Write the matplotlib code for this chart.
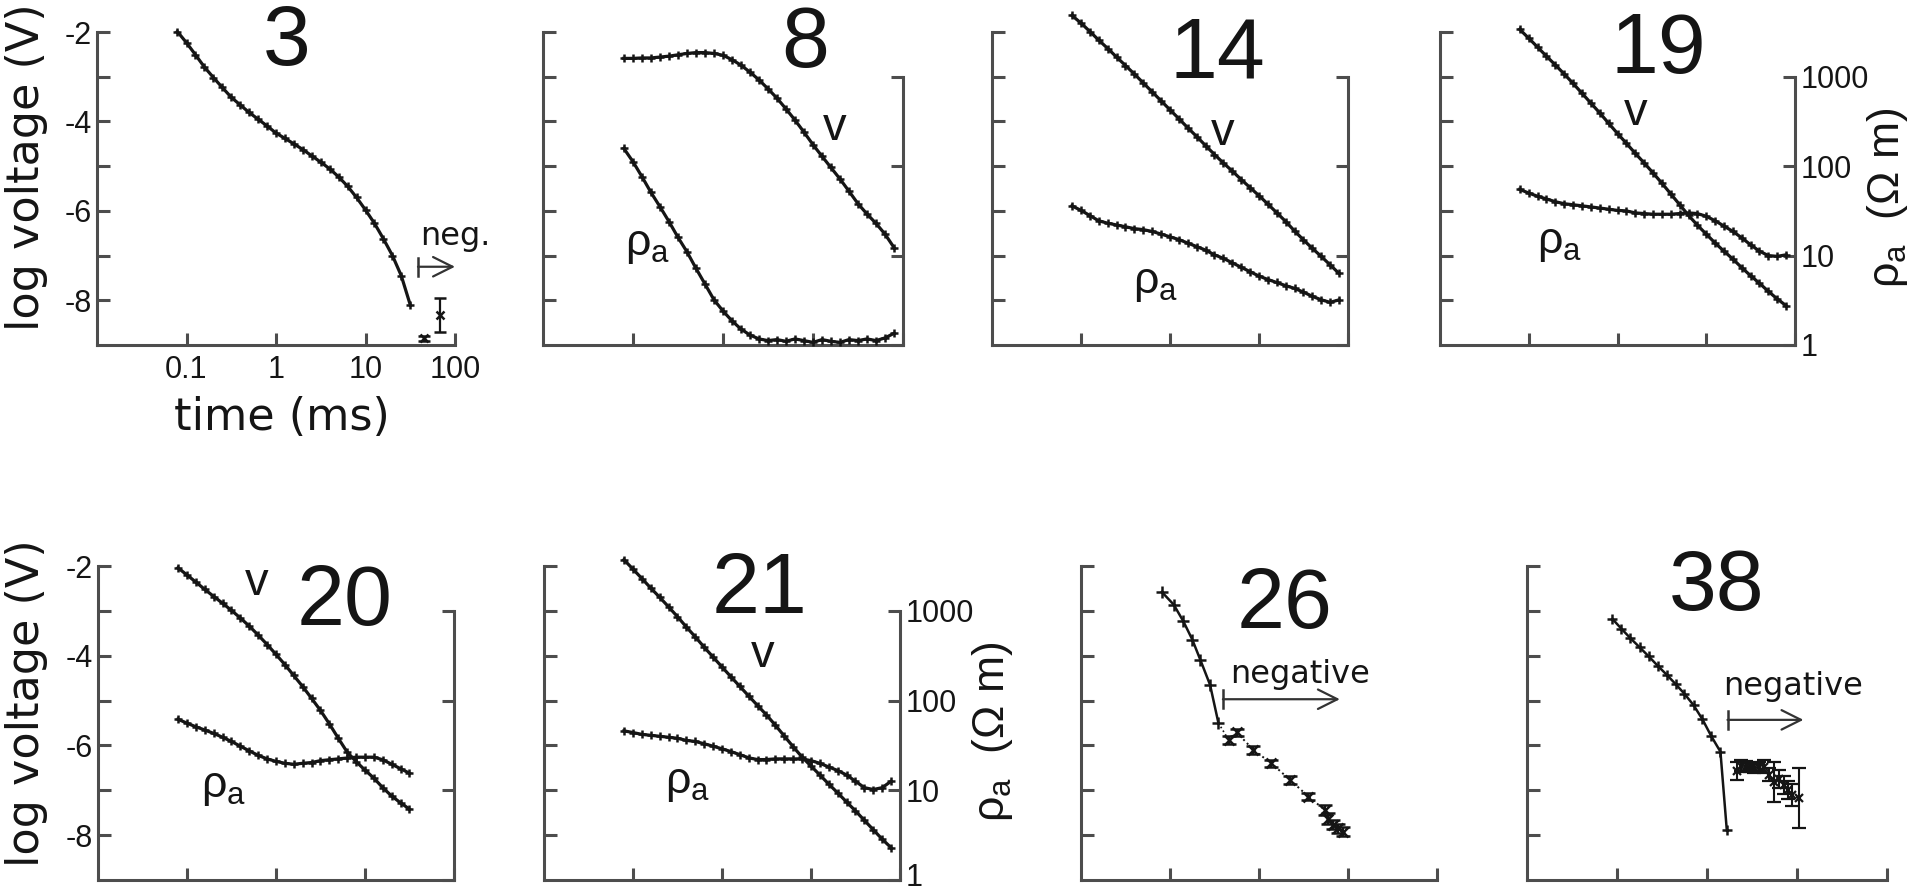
import matplotlib
matplotlib.use("Agg")
import matplotlib.pyplot as plt
from matplotlib.ticker import FixedLocator, FixedFormatter, NullLocator, NullFormatter
from matplotlib.transforms import offset_copy

plt.rcParams['font.family'] = ['Liberation Sans', 'DejaVu Sans']
plt.rcParams['mathtext.fontset'] = 'custom'
plt.rcParams['mathtext.rm'] = 'Liberation Sans'
plt.rcParams['mathtext.it'] = 'Liberation Sans'
plt.rcParams['mathtext.bf'] = 'Liberation Sans:bold'

W, H = 1923, 892

# ---------------- data ----------------
# time gates (ms)
GATES = [0.079, 0.1, 0.126, 0.158, 0.2, 0.251, 0.316, 0.398, 0.501, 0.631, 0.794,
         1.0, 1.26, 1.58, 2.0, 2.51, 3.16, 3.98, 5.01, 6.31, 7.94,
         10.0, 12.6, 15.8, 20.0, 25.1, 31.6, 39.8, 50.1, 63.1, 79.4]

X_TICKS = [0.1, 1, 10, 100]
X_TICK_LABELS = ['0.1', '1', '10', '100']
Y_TICKS = [-8, -6, -4, -2]
Y_TICK_LABELS = ['-8', '-6', '-4', '-2']
Y_MINOR = [-7, -5, -3]
RHO_TICKS = [1, 10, 100, 1000]
RHO_TICK_LABELS = ['1', '10', '100', '1000']

# sounding 3
v3 = [-1.99, -2.24, -2.51, -2.78, -3.02, -3.24, -3.46, -3.63, -3.80, -3.95, -4.10,
      -4.26, -4.38, -4.50, -4.63, -4.77, -4.91, -5.06, -5.24, -5.45, -5.70,
      -5.98, -6.28, -6.62, -7.00, -7.45, -8.10]
t3_neg = [45.0, 68.0]
v3_neg = [-8.85, -8.33]
e3_neg = [0.05, 0.37]

# sounding 8
v8 = [-2.59, -2.59, -2.58, -2.58, -2.56, -2.54, -2.51, -2.48, -2.46, -2.46, -2.48,
      -2.52, -2.62, -2.74, -2.90, -3.07, -3.27, -3.48, -3.72, -3.97, -4.24,
      -4.52, -4.78, -5.03, -5.29, -5.56, -5.84, -6.07, -6.28, -6.52, -6.82]
rho8 = [158, 112, 76, 51, 35, 24, 16, 11, 7.2, 4.8, 3.2,
        2.4, 1.86, 1.51, 1.29, 1.17, 1.12, 1.15, 1.10, 1.17, 1.12,
        1.07, 1.15, 1.10, 1.07, 1.15, 1.12, 1.17, 1.12, 1.20, 1.35]

# sounding 14
v14 = [-1.63, -1.80, -1.99, -2.18, -2.37, -2.56, -2.75, -2.94, -3.14, -3.34, -3.54,
       -3.74, -3.94, -4.14, -4.34, -4.54, -4.74, -4.93, -5.11, -5.30, -5.48,
       -5.66, -5.85, -6.04, -6.24, -6.45, -6.65, -6.84, -7.02, -7.21, -7.40]
rho14 = [36, 32, 28, 24.5, 23, 22, 21, 20, 19.5, 18.6, 17.4,
         16.2, 15.1, 13.8, 12.6, 11.5, 10.2, 9.3, 8.3, 7.4, 6.6,
         5.9, 5.4, 5.0, 4.6, 4.3, 3.9, 3.5, 3.2, 3.0, 3.2]

# sounding 19
v19 = [-1.94, -2.14, -2.34, -2.54, -2.74, -2.94, -3.15, -3.37, -3.59, -3.81, -4.04,
       -4.27, -4.49, -4.71, -4.93, -5.15, -5.38, -5.62, -5.86, -6.10, -6.32,
       -6.52, -6.72, -6.90, -7.08, -7.27, -7.45, -7.62, -7.80, -7.97, -8.12]
rho19 = [55, 50, 46, 43, 40, 38, 37, 36, 35, 34, 33,
         32, 31.6, 30, 29.5, 29, 29, 29, 29.5, 30, 29.5,
         27.5, 24.5, 21.4, 18.6, 15.8, 13.2, 11.2, 10, 9.8, 10.2]

# sounding 20
v20 = [-2.04, -2.20, -2.36, -2.52, -2.68, -2.83, -2.99, -3.16, -3.34, -3.54, -3.75,
       -3.97, -4.20, -4.44, -4.69, -4.95, -5.22, -5.52, -5.84, -6.15, -6.36,
       -6.55, -6.73, -6.94, -7.13, -7.28, -7.42]
rho20 = [62, 56, 51, 47, 43, 39, 35, 31, 27.5, 24.5, 22.4,
         21, 20, 19.5, 20, 20.4, 21.4, 21.9, 22.4, 22.9, 23.4,
         23.4, 23.4, 21.9, 19.5, 17.4, 15.5]

# sounding 21
v21 = [-1.86, -2.07, -2.28, -2.49, -2.70, -2.91, -3.13, -3.36, -3.58, -3.81, -4.03,
       -4.25, -4.47, -4.68, -4.90, -5.11, -5.32, -5.55, -5.79, -6.03, -6.26,
       -6.46, -6.66, -6.86, -7.06, -7.26, -7.46, -7.67, -7.88, -8.09, -8.28]
rho21 = [46, 44, 42, 41, 40, 39, 38, 36, 35, 33, 31,
         29, 27, 25, 23, 22, 22, 22.4, 22.4, 22.4, 22.4,
         21.4, 20, 18.2, 16.6, 14.8, 12.6, 10.7, 10.2, 10.7, 12.6]

# sounding 26
t26_pos = [0.081, 0.11, 0.141, 0.178, 0.219, 0.282, 0.35]
v26_pos = [-2.58, -2.86, -3.23, -3.64, -4.09, -4.65, -5.50]
t26_neg = [0.457, 0.562, 0.865, 1.38, 2.24, 3.59, 5.5, 6.0, 6.8, 7.8, 8.9]
v26_neg = [-5.88, -5.71, -6.10, -6.40, -6.77, -7.14, -7.44, -7.63, -7.77, -7.85, -7.92]
e26_neg = [0.08, 0.08, 0.08, 0.08, 0.08, 0.08, 0.12, 0.12, 0.10, 0.10, 0.10]

# sounding 38
t38_pos = [0.089, 0.112, 0.141, 0.178, 0.224, 0.282, 0.355, 0.447, 0.562, 0.708,
           0.891, 1.12, 1.41, 1.66]
v38_pos = [-3.18, -3.40, -3.61, -3.81, -4.01, -4.22, -4.42, -4.63, -4.85, -5.10,
           -5.42, -5.80, -6.14, -7.89]
t38_neg = [2.14, 2.40, 2.69, 3.02, 3.31, 3.80, 4.27, 4.90, 5.50, 6.31, 7.08, 7.94, 8.71, 10.5]
v38_neg = [-6.58, -6.45, -6.47, -6.50, -6.51, -6.48, -6.47, -6.65, -6.81, -6.75,
           -6.89, -7.00, -7.10, -7.18]
e38_neg = [0.20, 0.12, 0.12, 0.10, 0.10, 0.10, 0.15, 0.15, 0.45, 0.20, 0.20, 0.20, 0.25, 0.67]

# ---------------- style ----------------
SPINE = '#4d4d4d'
INK = '#151515'
TITLE_FS = 62
TICK_FS = 22
LABEL_FS = 32
LABEL_FONT = 'DejaVu Sans'


def rect(l, t, r, b):
    return [l / W, 1 - b / H, (r - l) / W, (b - t) / H]


def base_axes(r, left_labels=False, x_labels=False):
    ax = fig.add_axes(rect(*r))
    ax.set_xscale('log')
    ax.set_xlim(0.01, 100)
    ax.set_ylim(-9, -2)
    ax.patch.set_alpha(0)
    for s in ('top', 'right'):
        ax.spines[s].set_visible(False)
    for s in ('left', 'bottom'):
        ax.spines[s].set_linewidth(2.2)
        ax.spines[s].set_color(SPINE)
    ax.xaxis.set_major_locator(FixedLocator(X_TICKS))
    ax.xaxis.set_minor_locator(NullLocator())
    if x_labels:
        ax.xaxis.set_major_formatter(FixedFormatter(X_TICK_LABELS))
    else:
        ax.xaxis.set_major_formatter(NullFormatter())
    ax.yaxis.set_major_locator(FixedLocator(Y_TICKS))
    ax.yaxis.set_minor_locator(FixedLocator(Y_MINOR))
    ax.yaxis.set_minor_formatter(NullFormatter())
    if left_labels:
        ax.yaxis.set_major_formatter(FixedFormatter(Y_TICK_LABELS))
    else:
        ax.yaxis.set_major_formatter(NullFormatter())
    ax.tick_params(which='both', direction='in', length=9, width=2.2,
                   color=SPINE, labelsize=TICK_FS, labelcolor=INK)
    ax.tick_params(axis='x', pad=7)
    ax.tick_params(axis='y', pad=4)
    return ax


def rho_axes(ax, labels=False, raise_bottom=False):
    ax2 = ax.twinx()
    ax2.set_yscale('log')
    ax2.set_ylim(1, 10 ** 3.5)
    for s in ('top', 'left', 'bottom'):
        ax2.spines[s].set_visible(False)
    ax2.spines['right'].set_bounds(1, 1000)
    ax2.spines['right'].set_linewidth(2.2)
    ax2.spines['right'].set_color(SPINE)
    ax2.yaxis.set_major_locator(FixedLocator(RHO_TICKS))
    ax2.yaxis.set_minor_locator(NullLocator())
    if labels:
        tick_labels = list(RHO_TICK_LABELS)
        if raise_bottom:
            tick_labels[0] = ''
        ax2.yaxis.set_major_formatter(FixedFormatter(tick_labels))
    else:
        ax2.yaxis.set_major_formatter(NullFormatter())
    ax2.tick_params(which='both', direction='in', length=9, width=2.2,
                    color=SPINE, labelsize=TICK_FS, labelcolor=INK, pad=4)
    if labels and raise_bottom:
        tr = offset_copy(ax2.get_yaxis_transform(), fig=fig, x=5.6, y=5, units='dots')
        ax2.text(1.0, RHO_TICKS[0], RHO_TICK_LABELS[0], transform=tr, ha='left',
                 va='center_baseline', fontsize=TICK_FS, color=INK, clip_on=False)
    return ax2


def curve(ax, t, y):
    ax.plot(t, y, '-', color=INK, lw=2.3, marker='+', ms=6, mew=1.8, clip_on=False)


def neg_arrow(ax, x0, x1, y, text, tx, ty):
    ax.plot([x0, x0], [y - 0.2, y + 0.2], color='#333333', lw=1.8, clip_on=False)
    ax.annotate('', xy=(x1, y), xytext=(x0, y),
                arrowprops=dict(arrowstyle='->,head_length=0.7,head_width=0.35',
                                color='#333333', lw=1.6, shrinkA=0, shrinkB=0,
                                mutation_scale=20), annotation_clip=False)
    ax.text(tx, ty, text, ha='center', va='baseline', fontsize=23,
            family='DejaVu Sans', color=INK, clip_on=False)


def ftext(x, y, s, **kw):
    fig.text(x / W, 1 - y / H, s, **kw)


fig = plt.figure(figsize=(W / 100, H / 100), dpi=100)

TOP = (32, 345)
BOT = (566, 880)

# ---- panel 3 ----
ax = base_axes((97, TOP[0], 455, TOP[1]), left_labels=True, x_labels=True)
curve(ax, GATES[:len(v3)], v3)
ax.errorbar(t3_neg, v3_neg, yerr=e3_neg, fmt='x', color=INK, ms=6, mew=1.8,
            capsize=4, elinewidth=1.6, capthick=1.6, clip_on=False)
neg_arrow(ax, 38.6, 100, -7.25, 'neg.', 102, -6.77)

# ---- panel 8 ----
ax = base_axes((543, TOP[0], 903, TOP[1]))
ax2 = rho_axes(ax)
curve(ax, GATES[:len(v8)], v8)
curve(ax2, GATES[:len(rho8)], rho8)

# ---- panel 14 ----
ax = base_axes((992, TOP[0], 1348, TOP[1]))
ax2 = rho_axes(ax)
curve(ax, GATES[:len(v14)], v14)
curve(ax2, GATES[:len(rho14)], rho14)

# ---- panel 19 ----
ax = base_axes((1440, TOP[0], 1795, TOP[1]))
ax2 = rho_axes(ax, labels=True)
curve(ax, GATES[:len(v19)], v19)
curve(ax2, GATES[:len(rho19)], rho19)

# ---- panel 20 ----
ax = base_axes((98, BOT[0], 454, BOT[1]), left_labels=True)
ax2 = rho_axes(ax)
curve(ax, GATES[:len(v20)], v20)
curve(ax2, GATES[:len(rho20)], rho20)

# ---- panel 21 ----
ax = base_axes((544, BOT[0], 900, BOT[1]))
ax2 = rho_axes(ax, labels=True, raise_bottom=True)
curve(ax, GATES[:len(v21)], v21)
curve(ax2, GATES[:len(rho21)], rho21)

# ---- panel 26 ----
ax = base_axes((1081, BOT[0], 1437, BOT[1]))
ax.plot(t26_pos, v26_pos, '-', color=INK, lw=1.8, marker='+', ms=9, mew=1.8, clip_on=False)
ax.plot([t26_pos[-1], t26_neg[0]], [v26_pos[-1], v26_neg[0]], ':', color=INK, lw=1.2)
ax.errorbar(t26_neg, v26_neg, yerr=e26_neg, fmt=':', marker='x', color=INK, ms=7, mew=1.8,
            lw=1.4, capsize=5, elinewidth=1.5, capthick=1.8, clip_on=False)
neg_arrow(ax, 0.393, 8.1, -4.97, 'negative', 2.9, -4.61)

# ---- panel 38 ----
ax = base_axes((1527, BOT[0], 1887, BOT[1]))
ax.plot(t38_pos, v38_pos, '-', color=INK, lw=1.8, marker='+', ms=7, mew=1.8, clip_on=False)
ax.errorbar(t38_neg, v38_neg, yerr=e38_neg, fmt=':', marker='x', color=INK, ms=6, mew=1.6,
            lw=1.2, capsize=5, elinewidth=1.5, capthick=1.5, clip_on=False)
neg_arrow(ax, 1.69, 11.8, -5.43, 'negative', 9.1, -4.87)

# ---- titles ----
for s, x, y in [('3', 287, 65), ('8', 805, 67), ('14', 1217, 78), ('19', 1658, 73),
                ('20', 345, 625), ('21', 760, 613), ('26', 1285, 628), ('38', 1717, 610)]:
    ftext(x, y, s, ha='center', va='baseline', fontsize=TITLE_FS, color=INK)

# ---- curve labels ----
for x, y in [(835, 128), (1223, 133), (1636, 113), (257, 583), (763, 655)]:
    ftext(x, y, 'v', ha='center', va='center', fontsize=34, color=INK)
for x, y in [(648, 245), (1156, 283), (1560, 243), (224, 788), (688, 784)]:
    ftext(x, y, 'ρ$_\\mathrm{a}$', ha='center', va='center', fontsize=32, color=INK)

# ---- axis labels ----
ftext(27, 167, 'log voltage (V)', rotation=90, ha='center', va='center',
      fontsize=LABEL_FS, family=LABEL_FONT, color=INK)
ftext(27, 703, 'log voltage (V)', rotation=90, ha='center', va='center',
      fontsize=LABEL_FS, family=LABEL_FONT, color=INK)
ftext(282, 417, 'time (ms)', ha='center', va='center', fontsize=LABEL_FS,
      family=LABEL_FONT, color=INK)
ftext(1888, 198, 'ρ$_\\mathrm{a}$  (Ω m)', rotation=90, ha='center', va='center',
      fontsize=LABEL_FS, color=INK)
ftext(993, 732, 'ρ$_\\mathrm{a}$  (Ω m)', rotation=90, ha='center', va='center',
      fontsize=LABEL_FS, color=INK)

fig.savefig('out.png', dpi=100, facecolor='white')
